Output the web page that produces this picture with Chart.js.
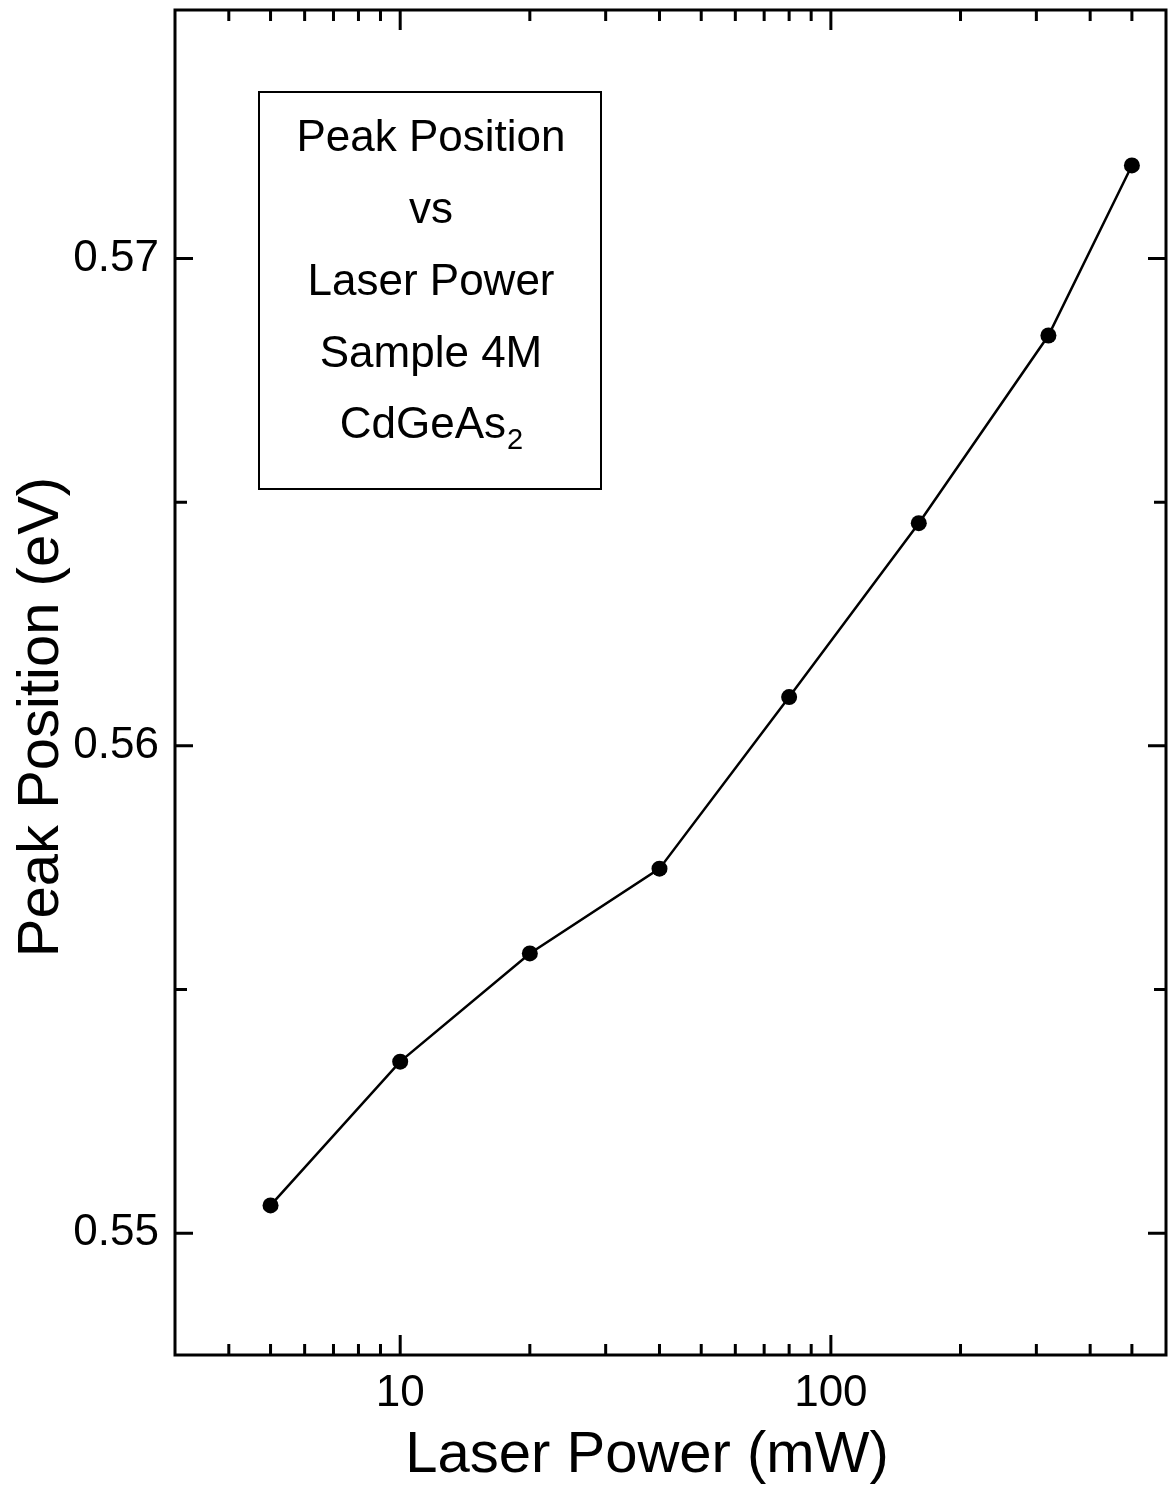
<!DOCTYPE html>
<html>
<head>
<meta charset="utf-8">
<script src="https://cdn.jsdelivr.net/npm/chart.js@4/dist/chart.umd.min.js"></script>
<style>
  html, body { margin: 0; padding: 0; background: #fff; }
  #wrap { width: 1169px; height: 1488px; }
</style>
</head>
<body>
<div id="wrap"><canvas id="myChart" width="1169" height="1488"></canvas></div>
<script>
// data
const power = [5, 10, 20, 40, 80, 160, 320, 500];          // mW
const peak = [0.55057, 0.55352, 0.55574, 0.55748, 0.5610, 0.56457, 0.56842, 0.57191]; // eV
const xLabels = [10, 100];
const xMinor = [4, 5, 6, 7, 8, 9, 20, 30, 40, 50, 60, 70, 80, 90, 200, 300, 400, 500];
const yLabels = [0.55, 0.56, 0.57];
const yMinor = [0.555, 0.565];
const boxLines = ['Peak Position', 'vs', 'Laser Power', 'Sample 4M'];

const FONT = '"Liberation Sans", Arial, Helvetica, sans-serif';

// inward ticks, frame, axis titles and the text box
const framePlugin = {
    id: 'frame',
    afterDraw(chart) {
        const ctx = chart.ctx;
        const a = chart.chartArea;
        const xs = chart.scales.x;
        const ys = chart.scales.y;
        ctx.save();
        ctx.strokeStyle = '#000';
        ctx.lineCap = 'butt';

        // ticks
        ctx.lineWidth = 3;
        const tickX = (v, len) => {
            const px = xs.getPixelForValue(v);
            ctx.beginPath();
            ctx.moveTo(px, a.bottom); ctx.lineTo(px, a.bottom - len);
            ctx.moveTo(px, a.top); ctx.lineTo(px, a.top + len);
            ctx.stroke();
        };
        const tickY = (v, len) => {
            const py = ys.getPixelForValue(v);
            ctx.beginPath();
            ctx.moveTo(a.left, py); ctx.lineTo(a.left + len, py);
            ctx.moveTo(a.right, py); ctx.lineTo(a.right - len, py);
            ctx.stroke();
        };
        xLabels.forEach(v => tickX(v, 20));
        xMinor.forEach(v => tickX(v, 11));
        yLabels.forEach(v => tickY(v, 18));
        yMinor.forEach(v => tickY(v, 12));

        // frame
        ctx.lineWidth = 3;
        ctx.strokeRect(a.left, a.top, a.right - a.left, a.bottom - a.top);

        // axis titles
        ctx.fillStyle = '#000';
        ctx.font = '58px ' + FONT;
        ctx.textAlign = 'center';
        ctx.textBaseline = 'alphabetic';
        ctx.fillText('Laser Power (mW)', 647, 1472);
        ctx.save();
        ctx.translate(58, 717);
        ctx.rotate(-Math.PI / 2);
        ctx.fillText('Peak Position (eV)', 0, 0);
        ctx.restore();

        // text box
        ctx.lineWidth = 2;
        ctx.strokeRect(259, 92, 342, 397);
        ctx.font = '44px ' + FONT;
        const cx = 431;
        boxLines.forEach((t, i) => ctx.fillText(t, cx, 151 + i * 72));
        const main = 'CdGeAs';
        const wMain = ctx.measureText(main).width;
        ctx.font = '29px ' + FONT;
        const wSub = ctx.measureText('2').width;
        const start = cx - (wMain + wSub) / 2;
        ctx.textAlign = 'left';
        ctx.font = '44px ' + FONT;
        ctx.fillText(main, start, 438);
        ctx.font = '29px ' + FONT;
        ctx.fillText('2', start + wMain + 1, 449);
        ctx.restore();
    }
};

const ctx = document.getElementById('myChart');

new Chart(ctx, {
    type: 'scatter',
    data: {
        datasets: [{
            data: power.map((p, i) => ({ x: p, y: peak[i] })),
            showLine: true,
            borderColor: '#000',
            borderWidth: 2.5,
            backgroundColor: '#000',
            pointRadius: 8,
            pointHoverRadius: 8,
            pointBorderWidth: 0
        }]
    },
    options: {
        responsive: false,
        animation: false,
        events: [],
        layout: { autoPadding: false, padding: { top: 10, right: 3, left: 0, bottom: 0 } },
        plugins: {
            legend: { display: false },
            tooltip: { enabled: false }
        },
        scales: {
            x: {
                type: 'logarithmic',
                min: 3,
                max: 600,
                grid: { display: false, drawTicks: false },
                border: { display: false },
                afterBuildTicks: s => { s.ticks = xLabels.map(v => ({ value: v })); },
                afterFit: s => { s.height = 133; s.paddingLeft = 0; s.paddingRight = 0; },
                ticks: {
                    color: '#000',
                    font: { family: FONT, size: 44 },
                    padding: 12,
                    maxRotation: 0,
                    callback: v => String(v)
                }
            },
            y: {
                type: 'linear',
                min: 0.5475,
                max: 0.5751,
                grid: { display: false, drawTicks: false },
                border: { display: false },
                afterBuildTicks: s => { s.ticks = yLabels.map(v => ({ value: v })); },
                afterFit: s => { s.width = 175; s.paddingTop = 0; s.paddingBottom = 0; },
                ticks: {
                    color: '#000',
                    font: { family: FONT, size: 44 },
                    padding: 16,
                    callback: v => v.toFixed(2)
                }
            }
        }
    },
    plugins: [framePlugin]
});
</script>
</body>
</html>
